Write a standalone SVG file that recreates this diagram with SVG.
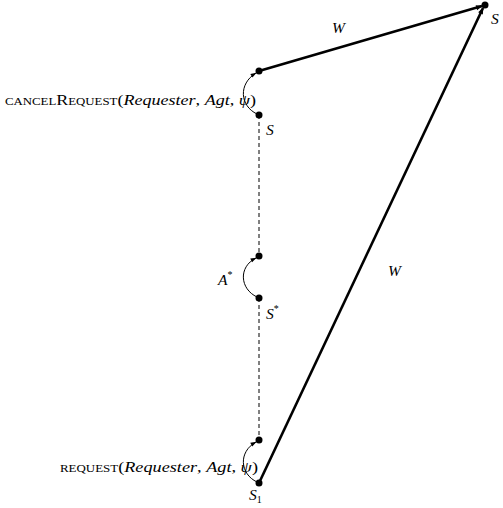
<svg xmlns="http://www.w3.org/2000/svg" width="503" height="508" viewBox="0 0 503 508">
<style>
.t{font-family:"Liberation Serif","DejaVu Serif",serif;font-size:15.5px;fill:#000}
.i{font-style:italic}
.sc{font-variant:small-caps}
.thick{stroke:#000;stroke-width:2.6;fill:none}
.thin{stroke:#000;stroke-width:1;fill:none}
.dash{stroke:#000;stroke-width:1;stroke-dasharray:4,3;fill:none}
</style>
<defs>
<marker id="ah" viewBox="0 0 10 10" refX="9" refY="5" markerWidth="3" markerHeight="2.5" orient="auto" markerUnits="strokeWidth"><path d="M0,1 L10,5 L0,9 Z" fill="#000"/></marker>
<marker id="ahs" viewBox="0 0 10 10" refX="9" refY="5" markerWidth="7" markerHeight="6" orient="auto" markerUnits="strokeWidth"><path d="M0,1.5 L10,5 L0,8.5 Z" fill="#000"/></marker>
</defs>
<g id="connectors">
<line class="dash" x1="259" y1="115" x2="259" y2="256"/>
<line class="dash" x1="259" y1="298" x2="259" y2="440"/>
<line class="thick" x1="259" y1="71" x2="482" y2="6" marker-end="url(#ah)"/>
<line class="thick" x1="259" y1="483" x2="483" y2="8" marker-end="url(#ah)"/>
<path class="thin" d="M257,114 C240,106 238,84 256,73" marker-end="url(#ahs)"/>
<path class="thin" d="M257,297 C240,289 238,267 256,258" marker-end="url(#ahs)"/>
<path class="thin" d="M257,482 C240,474 238,452 256,442" marker-end="url(#ahs)"/>
</g>
<g id="n_top"><circle cx="485" cy="5" r="3.5"/><text class="t i" x="491" y="24">S</text></g>
<g id="n_c1"><circle cx="259" cy="71" r="3.5"/></g>
<g id="n_s"><circle cx="259" cy="115" r="3.5"/><text class="t i" x="266" y="135">S</text></g>
<g id="n_a1"><circle cx="259" cy="256" r="3.5"/></g>
<g id="n_sstar"><circle cx="259" cy="298" r="3.5"/><text class="t i" x="266" y="319">S<tspan font-size="10" dy="-7" font-style="normal">*</tspan></text></g>
<g id="n_s1"><circle cx="259" cy="483" r="3.5"/><text class="t i" x="249" y="500">S<tspan font-size="10" dy="3" font-style="normal">1</tspan></text></g>
<g id="n_r1"><circle cx="259" cy="440" r="3.5"/></g>
<g id="labels">
<text class="t i" x="332" y="33">W</text>
<text class="t i" x="388" y="276">W</text>
<text class="t i" x="218" y="285">A<tspan font-size="10" dy="-7" font-style="normal">*</tspan></text>
<text class="t" x="5" y="105" textLength="251" lengthAdjust="spacingAndGlyphs"><tspan class="sc">cancelRequest</tspan>(<tspan class="i">Requester</tspan>, <tspan class="i">Agt</tspan>, <tspan class="i">ψ</tspan>)</text>
<text class="t" x="60" y="472" textLength="198" lengthAdjust="spacingAndGlyphs"><tspan class="sc">request</tspan>(<tspan class="i">Requester</tspan>, <tspan class="i">Agt</tspan>, <tspan class="i">ψ</tspan>)</text>
</g>
</svg>
